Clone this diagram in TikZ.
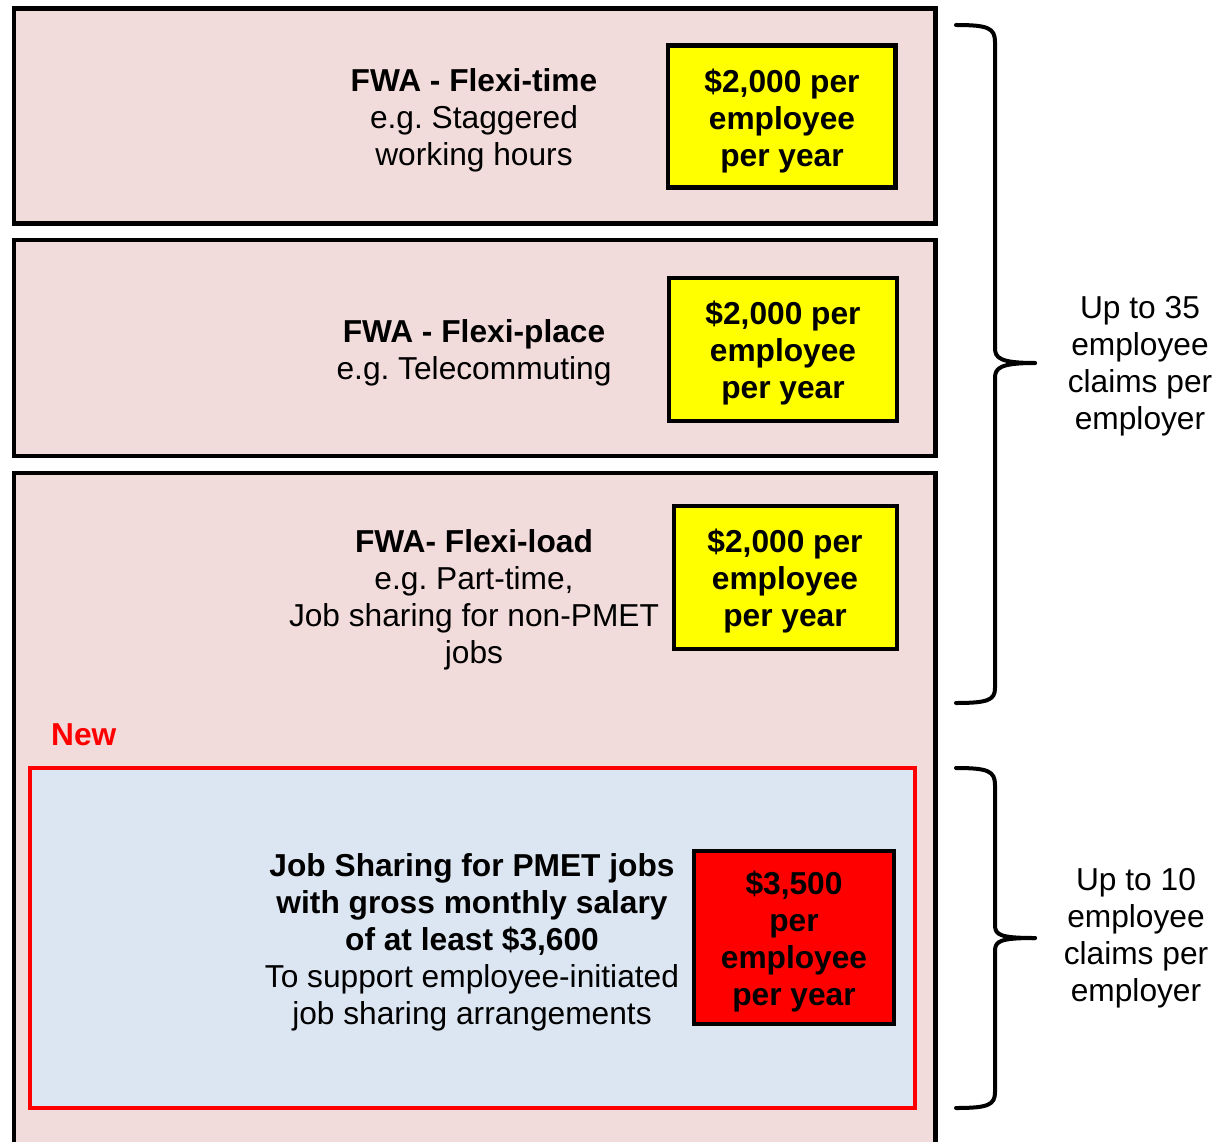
\documentclass[tikz,border=0pt]{standalone}
\usepackage{fontspec}
\setmainfont{Liberation Sans}
\frenchspacing
\begin{document}
\begin{tikzpicture}[x=1pt,y=-1pt,
  txt/.style={align=center,font=\fontsize{31.7}{37}\selectfont,inner sep=0pt},
  btxt/.style={txt,font=\fontsize{31.7}{37}\selectfont\bfseries},
  panel/.style={draw=black,line width=4.5pt,fill=pinkbg},
  amount/.style={draw=black,line width=4.5pt,inner sep=0pt},
  bracestyle/.style={draw=black,line width=4pt,line cap=round,line join=round}]
\definecolor{pinkbg}{HTML}{F2DCDB}
\definecolor{bluebg}{HTML}{DCE6F2}
\definecolor{yel}{HTML}{FFFF00}
\definecolor{redc}{HTML}{FF0000}
\useasboundingbox (0,0) rectangle (1223,1142);
% panels
\draw[panel] (14,8.5) rectangle (935.5,223.5);
\draw[panel] (14,240) rectangle (935.5,456);
\draw[panel] (14,1160) -- (14,473) -- (935.5,473) -- (935.5,1160);
% new framed box
\draw[draw=redc,line width=4pt,fill=bluebg] (30,768) rectangle (915,1108);
% texts
\node[txt] (t1) at (474,120) {\textbf{FWA - Flexi-time}\\e.g. Staggered\\working hours};
\node[txt] (t2) at (474,352.5) {\textbf{FWA - Flexi-place}\\e.g. Telecommuting};
\node[txt] (t3) at (474,599.5) {\textbf{FWA- Flexi-load}\\e.g. Part-time,\\Job sharing for non-PMET\\jobs};
\node[txt] (t4) at (472,942) {\textbf{Job Sharing for PMET jobs}\\\textbf{with gross monthly salary}\\\textbf{of at least \$3,600}\\To support employee-initiated\\job sharing arrangements};
\node[btxt,text=redc,anchor=west] (new) at (51,735) {New};
% amounts
\node[amount,fill=yel,minimum width=227.5pt,minimum height=142pt] (a1) at (781.75,116.5) {};
\node[amount,fill=yel,minimum width=228pt,minimum height=143pt] (a2) at (783,349.5) {};
\node[amount,fill=yel,minimum width=223pt,minimum height=143pt] (a3) at (785.5,577.5) {};
\node[amount,fill=redc,minimum width=200pt,minimum height=173pt] (a4) at (794,937.5) {};
\node[btxt] (a1t) at (782,121.5) {\$2,000 per\\employee\\per year};
\node[btxt] (a2t) at (783,353.5) {\$2,000 per\\employee\\per year};
\node[btxt] (a3t) at (785,581.5) {\$2,000 per\\employee\\per year};
\node[btxt] (a4t) at (794,942) {\$3,500\\per\\employee\\per year};
% braces
\draw[bracestyle] (956,25) .. controls (988,25) and (995,28) .. (995,42) -- (995,348)
  .. controls (995,358) and (1000,363) .. (1035,363);
\draw[bracestyle] (1035,363) .. controls (1000,363) and (995,368) .. (995,378) -- (995,688)
  .. controls (995,700) and (988,703) .. (956,703);
\draw[bracestyle] (956,768) .. controls (988,768) and (995,771) .. (995,785) -- (995,925)
  .. controls (995,935) and (1000,938) .. (1035,938);
\draw[bracestyle] (1035,938) .. controls (1000,938) and (995,941) .. (995,951) -- (995,1092)
  .. controls (995,1105) and (988,1108) .. (956,1108);
% right labels
\node[txt] (r1) at (1140,366) {Up to 35\\employee\\claims per\\employer};
\node[txt] (r2) at (1136,938.5) {Up to 10\\employee\\claims per\\employer};
\end{tikzpicture}
\end{document}
